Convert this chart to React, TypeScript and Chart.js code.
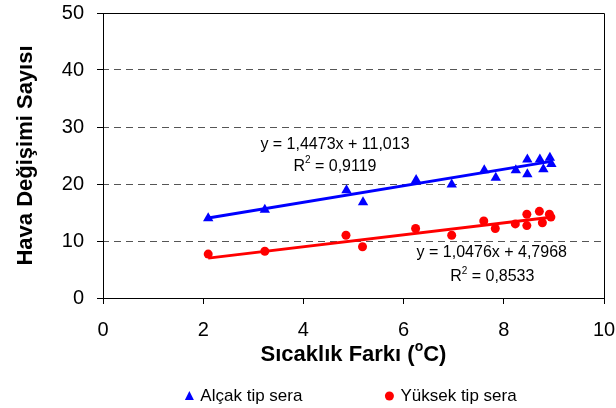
import React, { useEffect, useRef } from "react";
import { Chart, registerables } from "chart.js";

Chart.register(...registerables);

// ---- data ----
const seriesNames = ["Alçak tip sera", "Yüksek tip sera"];
const lowX = [2.1, 3.23, 4.86, 5.19, 6.25, 6.96, 7.61, 7.84, 8.24, 8.47, 8.47, 8.72, 8.79, 8.92, 8.95];
const lowY = [14.0, 15.5, 18.9, 16.8, 20.7, 19.9, 22.4, 21.1, 22.4, 24.3, 21.7, 24.3, 22.6, 24.6, 23.5];
const highX = [2.1, 3.23, 4.85, 5.18, 6.24, 6.96, 7.6, 7.83, 8.23, 8.46, 8.46, 8.71, 8.77, 8.91, 8.94];
const highY = [7.7, 8.2, 11.0, 9.0, 12.2, 11.0, 13.5, 12.2, 13.0, 14.7, 12.7, 15.2, 13.2, 14.7, 14.2];

const lowSlope = 1.4473;
const lowIntercept = 11.013;
const lowR2 = "0,9119";
const lowEq = "y = 1,4473x + 11,013";
const highSlope = 1.0476;
const highIntercept = 4.7968;
const highR2 = "0,8533";
const highEq = "y = 1,0476x + 4,7968";

const xTitle = "Sıcaklık Farkı (";
const xTitleUnit = "C)";
const yTitle = "Hava Değişimi Sayısı";

const FONT = "'Liberation Sans', Arial, sans-serif";

const trend = (xs: number[], m: number, b: number) => {
  const lo = Math.min(...xs);
  const hi = Math.max(...xs);
  return [
    { x: lo, y: m * lo + b },
    { x: hi, y: m * hi + b },
  ];
};

const drawR2 = (ctx: CanvasRenderingContext2D, cx: number, cy: number, val: string, size: number) => {
  ctx.font = `${size}px ${FONT}`;
  const wR = ctx.measureText("R").width;
  const rest = " = " + val;
  const wRest = ctx.measureText(rest).width;
  ctx.font = `${Math.round(size * 0.65)}px ${FONT}`;
  const w2 = ctx.measureText("2").width;
  const total = wR + w2 + wRest;
  let x = cx - total / 2;
  ctx.textAlign = "left";
  ctx.textBaseline = "middle";
  ctx.font = `${size}px ${FONT}`;
  ctx.fillText("R", x, cy);
  x += wR;
  ctx.font = `${Math.round(size * 0.65)}px ${FONT}`;
  ctx.fillText("2", x, cy - size * 0.35);
  x += w2;
  ctx.font = `${size}px ${FONT}`;
  ctx.fillText(rest, x, cy);
};

const customPlugin = {
  id: "custom",
  afterDraw(chart: any) {
    const { ctx, chartArea, scales } = chart;
    const xs = scales.x;
    const ys = scales.y;
    ctx.save();
    // box top & right
    ctx.strokeStyle = "#000";
    ctx.lineWidth = 1;
    ctx.beginPath();
    ctx.moveTo(chartArea.left, Math.round(chartArea.top) + 0.5);
    ctx.lineTo(Math.round(chartArea.right) + 0.5, Math.round(chartArea.top) + 0.5);
    ctx.lineTo(Math.round(chartArea.right) + 0.5, chartArea.bottom);
    ctx.stroke();

    // annotations
    ctx.fillStyle = "#000";
    ctx.textAlign = "center";
    ctx.textBaseline = "middle";
    ctx.font = `16px ${FONT}`;
    ctx.fillText(lowEq, xs.getPixelForValue(4.63), ys.getPixelForValue(27.0));
    drawR2(ctx, xs.getPixelForValue(4.63), ys.getPixelForValue(23.1), lowR2, 16);
    ctx.textAlign = "center";
    ctx.font = `16px ${FONT}`;
    ctx.fillText(highEq, xs.getPixelForValue(7.76), ys.getPixelForValue(7.9));
    drawR2(ctx, xs.getPixelForValue(7.77), ys.getPixelForValue(3.7), highR2, 16);

    // x title with superscript o
    const titleY = 355;
    const cx = (chartArea.left + chartArea.right) / 2;
    ctx.font = `bold 22px ${FONT}`;
    const w1 = ctx.measureText(xTitle).width;
    const w3 = ctx.measureText(xTitleUnit).width;
    ctx.font = `bold 14px ${FONT}`;
    const w2 = ctx.measureText("o").width;
    let x = cx - (w1 + w2 + w3) / 2;
    ctx.textAlign = "left";
    ctx.textBaseline = "middle";
    ctx.font = `bold 22px ${FONT}`;
    ctx.fillText(xTitle, x, titleY);
    x += w1;
    ctx.font = `bold 14px ${FONT}`;
    ctx.fillText("o", x, titleY - 8);
    x += w2;
    ctx.font = `bold 22px ${FONT}`;
    ctx.fillText(xTitleUnit, x, titleY);

    // legend
    const ly = 396;
    ctx.font = `17px ${FONT}`;
    const t1 = ctx.measureText(seriesNames[0]).width;
    const t2 = ctx.measureText(seriesNames[1]).width;
    const mark = 16;
    const gap = 82;
    const totalW = mark + t1 + gap + mark + t2;
    let lx = cx - 3 - totalW / 2;
    // triangle
    ctx.fillStyle = "#0000FF";
    ctx.beginPath();
    ctx.moveTo(lx + 5, ly - 5);
    ctx.lineTo(lx + 9.5, ly + 4);
    ctx.lineTo(lx + 0.5, ly + 4);
    ctx.closePath();
    ctx.fill();
    ctx.fillStyle = "#000";
    ctx.textAlign = "left";
    ctx.fillText(seriesNames[0], lx + mark, ly);
    lx += mark + t1 + gap;
    ctx.fillStyle = "#FF0000";
    ctx.beginPath();
    ctx.arc(lx + 5, ly, 4.5, 0, Math.PI * 2);
    ctx.fill();
    ctx.fillStyle = "#000";
    ctx.fillText(seriesNames[1], lx + mark, ly);
    ctx.restore();
  },
};

export default function App() {
  const ref = useRef<HTMLCanvasElement>(null);
  useEffect(() => {
    document.body.style.margin = "0";
    const canvas = ref.current;
    if (!canvas) return;
    const chart = new Chart(canvas, {
      type: "scatter",
      data: {
        datasets: [
          {
            type: "line",
            label: "trend1",
            data: trend(lowX, lowSlope, lowIntercept),
            borderColor: "#0000FF",
            borderWidth: 3,
            pointRadius: 0,
            fill: false,
          } as any,
          {
            type: "line",
            label: "trend2",
            data: trend(highX, highSlope, highIntercept),
            borderColor: "#FF0000",
            borderWidth: 3,
            pointRadius: 0,
            fill: false,
          } as any,
          {
            label: seriesNames[0],
            data: lowX.map((x, i) => ({ x, y: lowY[i] })),
            pointStyle: "triangle",
            pointRadius: 6,
            backgroundColor: "#0000FF",
            borderColor: "#0000FF",
            borderWidth: 0,
          },
          {
            label: seriesNames[1],
            data: highX.map((x, i) => ({ x, y: highY[i] })),
            pointStyle: "circle",
            pointRadius: 4.5,
            backgroundColor: "#FF0000",
            borderColor: "#FF0000",
            borderWidth: 0,
          },
        ],
      },
      options: {
        responsive: false,
        animation: false,
        layout: { padding: { left: 13, right: 12, top: 13, bottom: 38 } },
        plugins: { legend: { display: false }, tooltip: { enabled: false } },
        scales: {
          x: {
            type: "linear",
            min: 0,
            max: 10,
            ticks: { stepSize: 2, color: "#000", font: { family: FONT, size: 20 }, padding: 14 },
            grid: { drawOnChartArea: false, drawTicks: true, tickLength: 6, tickColor: "#000" },
            border: { color: "#000", width: 1 },
            afterFit: (s: any) => {
              s.height = 72;
              s.paddingLeft = 0;
              s.paddingRight = 0;
            },
          },
          y: {
            min: 0,
            max: 50,
            ticks: { stepSize: 10, color: "#000", font: { family: FONT, size: 20 }, padding: 13 },
            grid: {
              color: (c: any) => (c.tick && (c.tick.value === 0 || c.tick.value === 50) ? "rgba(0,0,0,0)" : "#555"),
              tickColor: "#000",
              tickLength: 6,
              lineWidth: 1,
            },
            border: { color: "#000", width: 1, dash: [7, 5], dashOffset: -10 },
            title: {
              display: true,
              text: yTitle,
              color: "#000",
              font: { family: FONT, size: 22, weight: "bold" },
              padding: { top: 0, bottom: 4 },
            },
            afterFit: (s: any) => {
              s.width = 90;
              s.paddingTop = 0;
              s.paddingBottom = 0;
            },
          },
        },
      },
      plugins: [customPlugin],
    } as any);
    return () => chart.destroy();
  }, []);
  return (
    <div style={{ width: 616, height: 408 }}>
      <canvas ref={ref} width={616} height={408} style={{ display: "block" }} />
    </div>
  );
}
